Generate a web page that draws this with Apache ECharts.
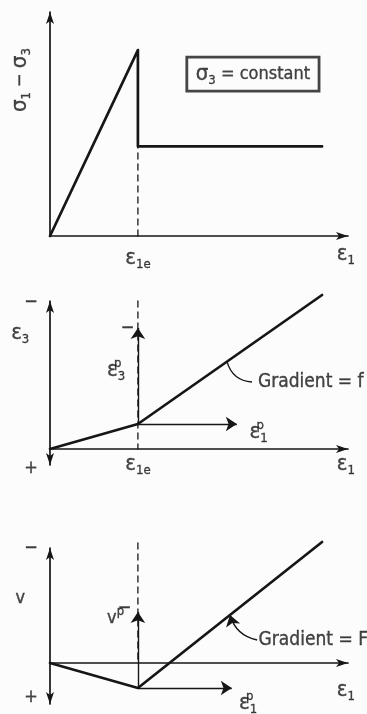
<!DOCTYPE html>
<html><head><meta charset="utf-8">
<script src="https://cdn.jsdelivr.net/npm/echarts@6/dist/echarts.min.js"></script>
<style>html,body{margin:0;padding:0;background:#fcfcfc;}#c{width:367px;height:714px;}</style>
</head><body><div id="c"></div>
<script>
// Schematic strain values (dimensionless) along the axial-strain axis
const eps1e = 2.95;     // axial strain at yield, ε1e
const eps1End = 9.13;   // end of the drawn plastic branch

// Panel 1: deviator stress σ1 − σ3 against ε1 (peak, sudden drop, plateau)
const stressX = [0, eps1e, eps1e, eps1End];
const stressY = [0, 8.3, 4.0, 4.0];

// Panel 2: ε3 against ε1, negative (extension) upwards
const eps3X = [0, eps1e, eps1End];
const eps3Y = [0, -1.25, -7.7];

// Panel 3: volumetric strain v against ε1, negative (dilation) upwards
const volX = [0, eps1e, eps1End];
const volY = [0, 1.25, -6.05];

// Plastic strain increment vectors drawn from the yield point
const eps3pTip = -6.05;   // panel 2, vertical component
const eps1pTip2 = 6.27;   // panel 2, horizontal component
const vpTip = -2.55;      // panel 3, vertical component
const eps1pTip3 = 6.1;    // panel 3, horizontal component

const INK = '#161616';
const FONT = '"DejaVu Sans Condensed", "Liberation Sans Narrow", "DejaVu Sans", sans-serif';

// Text styles: m = normal, w = annotation words, g = large Greek symbol,
// b = subscript, t = stacked superscript, u = superscript
const ts = (size, lh, extra) => Object.assign({
  fontSize: size, lineHeight: lh, color: INK, fontFamily: FONT,
  textBorderColor: INK, textBorderWidth: 0.35
}, extra || {});
const rich = {
  m: ts(18, 26),
  w: ts(19, 26),
  g: ts(22, 26),
  b: ts(13, 13, {verticalAlign: 'bottom'}),
  t: ts(13, 13, {verticalAlign: 'top', width: 0}),
  u: ts(13, 13, {verticalAlign: 'top'})
};

const zip = (xs, ys) => xs.map((x, i) => [x, ys[i]]);

const arrowAxis = (both) => ({
  show: true,
  onZero: true,
  symbol: both ? ['arrow', 'arrow'] : ['none', 'arrow'],
  symbolSize: [6, 12],
  lineStyle: {color: INK, width: 1.7}
});

function axis(type, extra) {
  return Object.assign({
    type: 'value',
    axisTick: {show: false},
    axisLabel: {show: false},
    splitLine: {show: false}
  }, extra);
}

function curve(gi, data, width, dash) {
  return {
    type: 'line', xAxisIndex: gi, yAxisIndex: gi, data: data,
    symbol: 'none', clip: false, silent: true,
    lineStyle: {color: INK, width: width, type: dash ? [6, 5] : 'solid', cap: 'round', join: 'round'}
  };
}

function vector(gi, from, to, withHead, curveness) {
  return {
    type: 'lines', coordinateSystem: 'cartesian2d', xAxisIndex: gi, yAxisIndex: gi,
    silent: true, clip: false,
    symbol: ['none', withHead ? 'arrow' : 'none'], symbolSize: [6, 11],
    lineStyle: {color: INK, width: 1.4, opacity: 1, curveness: curveness || 0},
    data: [{coords: [from, to]}]
  };
}

function note(gi, x, y, text, opts) {
  return {
    type: 'scatter', xAxisIndex: gi, yAxisIndex: gi, symbolSize: 0, silent: true,
    clip: false,
    data: [[x, y]],
    label: Object.assign({
      show: true, position: 'inside', formatter: text, rich: rich,
      color: INK, fontFamily: FONT, fontSize: 18
    }, opts || {})
  };
}

const option = {
  animation: false,
  backgroundColor: '#fcfcfc',
  grid: [
    {left: 50, top: 12, width: 298, height: 224},
    {left: 50, top: 301, width: 298, height: 164},
    {left: 50, top: 548, width: 298, height: 156}
  ],
  xAxis: [
    axis('x', {gridIndex: 0, min: 0, max: 10, axisLine: arrowAxis(false)}),
    axis('x', {gridIndex: 1, min: 0, max: 10, axisLine: arrowAxis(false)}),
    axis('x', {gridIndex: 2, min: 0, max: 10, axisLine: arrowAxis(false)})
  ],
  yAxis: [
    axis('y', {gridIndex: 0, min: 0, max: 10, axisLine: arrowAxis(false)}),
    axis('y', {gridIndex: 1, min: -7.4, max: 0.8, inverse: true, axisLine: arrowAxis(true)}),
    axis('y', {gridIndex: 2, min: -5.75, max: 2.05, inverse: true, axisLine: arrowAxis(true)})
  ],
  series: [
    // Panel 1
    curve(0, [[eps1e, 0], [eps1e, stressY[2]]], 1.3, true),
    curve(0, zip(stressX, stressY), 2.7, false),
    note(0, -1.0, 6.96, '{g|σ}{b|1}{m| − }{g|σ}{b|3}', {rotate: 90}),
    note(0, 6.81, 7.23, '{g|σ}{b|3}{m| = constant}', {
      padding: [4, 9, 4, 9], borderColor: INK, borderWidth: 1.4, backgroundColor: 'transparent'
    }),
    note(0, eps1e, -0.98, '{g|ε}{b|1e}'),
    note(0, 9.93, -0.8, '{g|ε}{b|1}'),

    // Panel 2
    curve(1, [[eps1e, -7.4], [eps1e, 0]], 1.3, true),
    vector(1, [eps1e, eps3Y[1]], [eps1e, eps3pTip], true),
    vector(1, [eps1e, eps3Y[1]], [eps1pTip2, eps3Y[1]], true),
    curve(1, zip(eps3X, eps3Y), 2.7, false),
    vector(1, [6.78, -3.35], [5.94, -4.37], false, 0.35),
    note(1, -0.64, -7.35, '{m|−}'),
    note(1, -1.0, -5.8, '{g|ε}{b|3}'),
    note(1, -0.64, 0.95, '{m|+}'),
    note(1, 2.22, -3.95, '{g|ε}{t|p}{b|3}'),
    note(1, 2.6, -6.05, '{m|−}'),
    note(1, 7.0, -0.85, '{g|ε}{t|p}{b|1}'),
    note(1, 6.98, -3.35, '{w|Gradient = f}', {position: 'right', distance: 0}),
    note(1, eps1e, 0.75, '{g|ε}{b|1e}'),
    note(1, 9.93, 0.75, '{g|ε}{b|1}'),

    // Panel 3
    curve(2, [[eps1e, -6.0], [eps1e, 0]], 1.3, true),
    vector(2, [eps1e, volY[1]], [eps1e, vpTip], true),
    vector(2, [eps1e, volY[1]], [eps1pTip3, volY[1]], true),
    curve(2, zip(volX, volY), 2.7, false),
    vector(2, [6.95, -1.15], [6.04, -2.4], true, 0.3),
    note(2, -0.64, -5.75, '{m|−}'),
    note(2, -1.0, -3.25, '{m|v}'),
    note(2, -0.64, 1.7, '{m|+}'),
    note(2, 2.2, -2.25, '{m|v}{u|p}'),
    note(2, 2.5, -2.75, '{m|−}'),
    note(2, 6.65, 2.0, '{g|ε}{t|p}{b|1}'),
    note(2, 9.93, 1.35, '{g|ε}{b|1}'),
    note(2, 7.0, -1.15, '{w|Gradient = F}', {position: 'right', distance: 0})
  ]
};

const chart = echarts.init(document.getElementById('c'), null, {renderer: 'canvas'});
chart.setOption(option);
</script>
</body></html>
